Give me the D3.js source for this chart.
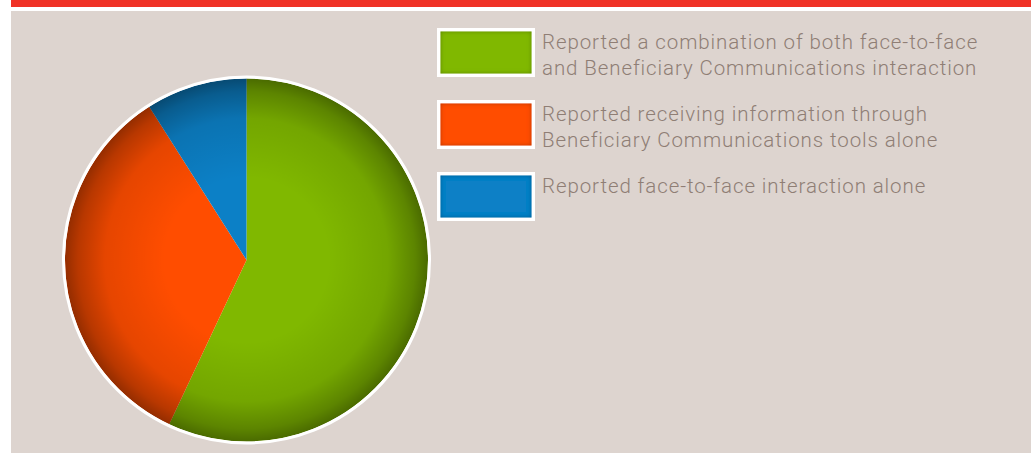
<!DOCTYPE html>
<html>
<head>
<meta charset="utf-8">
<script src="https://cdn.jsdelivr.net/npm/d3@7"></script>
<style>
  html, body { margin: 0; padding: 0; background: #ffffff; }
  svg { display: block; }
</style>
</head>
<body>
<svg id="chart" width="1034" height="453"></svg>
<script>
// Survey responses: how beneficiaries received information
const categories = [
  "Reported a combination of both face-to-face|and Beneficiary Communications interaction",
  "Reported receiving information through|Beneficiary Communications tools alone",
  "Reported face-to-face interaction alone"
];
const values = [57, 34, 9];
const colors = ["#80b800", "#ff4d00", "#0c80c6"];

const W = 1034, H = 453;
const svg = d3.select("#chart");
const defs = svg.append("defs");

// top accent bar and panel
svg.append("rect").attr("x", 11).attr("y", 0).attr("width", 1020).attr("height", 7).attr("fill", "#f03226");
svg.append("rect").attr("x", 11).attr("y", 11).attr("width", 1020).attr("height", H - 11).attr("fill", "#ddd4cf");

// rim shading for the pie
const rg = defs.append("radialGradient").attr("id", "rim")
  .attr("cx", 0.5).attr("cy", 0.5).attr("r", 0.5);
rg.append("stop").attr("offset", "0.45").attr("stop-color", "#000").attr("stop-opacity", 0);
rg.append("stop").attr("offset", "0.78").attr("stop-color", "#000").attr("stop-opacity", 0.1);
rg.append("stop").attr("offset", "0.93").attr("stop-color", "#000").attr("stop-opacity", 0.28);
rg.append("stop").attr("offset", "1").attr("stop-color", "#000").attr("stop-opacity", 0.42);

// inset shadow for legend swatches
const f = defs.append("filter").attr("id", "inset").attr("x", "-10%").attr("y", "-10%").attr("width", "120%").attr("height", "120%");
f.append("feComponentTransfer").attr("in", "SourceAlpha").attr("result", "inv")
  .append("feFuncA").attr("type", "table").attr("tableValues", "1 0");
f.append("feGaussianBlur").attr("in", "inv").attr("stdDeviation", 2.2).attr("result", "blur");
f.append("feFlood").attr("flood-color", "#000").attr("flood-opacity", 0.55).attr("result", "col");
f.append("feComposite").attr("in", "col").attr("in2", "blur").attr("operator", "in").attr("result", "sh");
f.append("feComposite").attr("in", "sh").attr("in2", "SourceAlpha").attr("operator", "in").attr("result", "shIn");
const m = f.append("feMerge");
m.append("feMergeNode").attr("in", "SourceGraphic");
m.append("feMergeNode").attr("in", "shIn");

// pie
const cx = 246.5, cy = 260, r = 181.5;
const pie = d3.pie().sort(null).value(d => d);
const arc = d3.arc().innerRadius(0).outerRadius(r);
const g = svg.append("g").attr("transform", `translate(${cx},${cy})`);

g.append("circle").attr("r", r + 2).attr("fill", "#ffffff");
g.selectAll("path.slice").data(pie(values)).join("path")
  .attr("class", "slice")
  .attr("d", arc)
  .attr("fill", (d, i) => colors[i]);
g.append("circle").attr("r", r).attr("fill", "url(#rim)");
g.append("circle").attr("r", r + 1.5).attr("fill", "none").attr("stroke", "#ffffff").attr("stroke-width", 3);

// legend
const leg = svg.append("g").attr("transform", "translate(437,28)");
const item = leg.selectAll("g.item").data(categories).join("g")
  .attr("class", "item")
  .attr("transform", (d, i) => `translate(0,${i * 72})`);

item.append("rect").attr("width", 98).attr("height", 49).attr("fill", "#ffffff");
item.append("rect").attr("x", 3.5).attr("y", 3.5).attr("width", 91).attr("height", 42)
  .attr("fill", (d, i) => colors[i]).attr("filter", "url(#inset)");

item.append("text")
  .attr("x", 105)
  .attr("font-family", "Roboto, 'Liberation Sans', Arial, sans-serif")
  .attr("font-weight", 300)
  .attr("font-size", 20.5)
  .attr("letter-spacing", 0.9)
  .attr("fill", "#8f7e75")
  .selectAll("tspan").data(d => d.split("|")).join("tspan")
  .attr("x", 105)
  .attr("y", (d, i) => 21 + i * 26)
  .text(d => d);
</script>
</body>
</html>
